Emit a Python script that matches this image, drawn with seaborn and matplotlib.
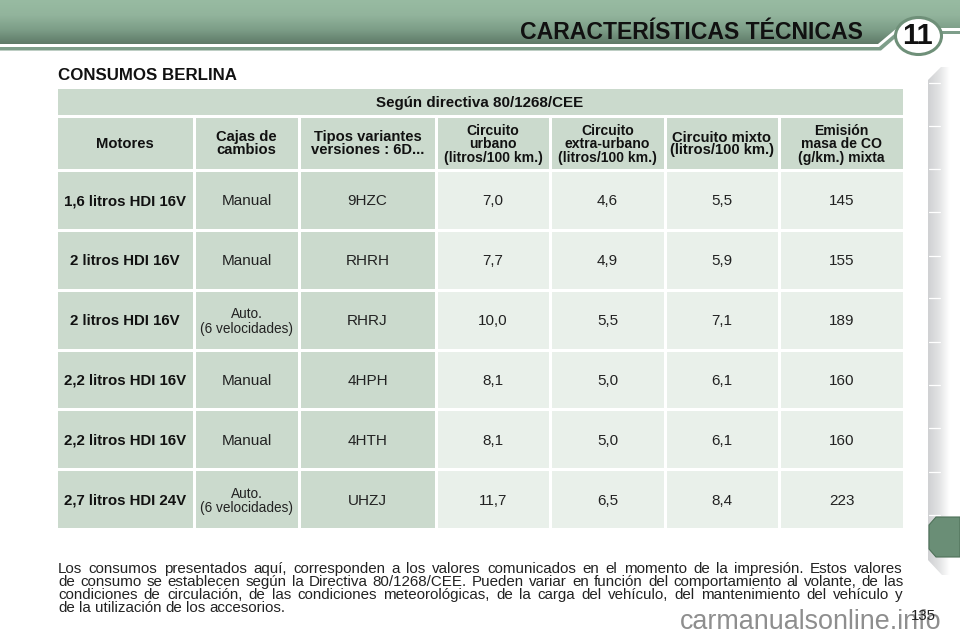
import numpy as np
import matplotlib
matplotlib.use('Agg')
import matplotlib.pyplot as plt
from matplotlib.colors import ListedColormap, LinearSegmentedColormap
from matplotlib.patches import Ellipse, Polygon
import seaborn as sns

# table content
motores = ['1,6 litros HDI 16V', '2 litros HDI 16V', '2 litros HDI 16V',
           '2,2 litros HDI 16V', '2,2 litros HDI 16V', '2,7 litros HDI 24V']
cajas = ['Manual', 'Manual', 'Auto.\n(6 velocidades)', 'Manual', 'Manual', 'Auto.\n(6 velocidades)']
tipos = ['9HZC', 'RHRH', 'RHRJ', '4HPH', '4HTH', 'UHZJ']
urbano = ['7,0', '7,7', '10,0', '8,1', '8,1', '11,7']
extra = ['4,6', '4,9', '5,5', '5,0', '5,0', '6,5']
mixto = ['5,5', '5,9', '7,1', '6,1', '6,1', '8,4']
co2 = ['145', '155', '189', '160', '160', '223']
cabeceras = ['Motores', 'Cajas de\ncambios', 'Tipos variantes\nversiones : 6D...',
             'Circuito\nurbano\n(litros/100 km.)', 'Circuito\nextra-urbano\n(litros/100 km.)',
             'Circuito mixto\n(litros/100 km.)', 'Emisión\nmasa de CO\n(g/km.) mixta']
parrafo = [
    'Los consumos presentados aquí, corresponden a los valores comunicados en el momento de la impresión. Estos valores',
    'de consumo se establecen según la Directiva 80/1268/CEE. Pueden variar en función del comportamiento al volante, de las',
    'condiciones de circulación, de las condiciones meteorológicas, de la carga del vehículo, del mantenimiento del vehículo y',
    'de la utilización de los accesorios.',
]

# column edges in pixels
col_x = [(58, 193), (196, 298), (301, 435), (438, 549), (552, 664), (667, 778), (781, 903)]
body_y = (172, 528)
head_y = (118, 169)
band_y = (89, 115)
DARK = '#cbdacd'
LIGHT = '#e9f0ea'
W, H = 960, 640

sns.set_theme(style='white')
plt.rcParams['font.family'] = ['Liberation Sans', 'DejaVu Sans']

fig = plt.figure(figsize=(9.6, 6.4), dpi=100)
bg = fig.add_axes([0, 0, 1, 1])
bg.set_xlim(0, W)
bg.set_ylim(H, 0)
bg.axis('off')


def cell_block(x0, x1, y0, y1, labels, fill, **kw):
    # one column of cells, 3px white gaps between rows
    ax = fig.add_axes([(x0 - 2) / W, 1 - (y1 + 1) / H, (x1 - x0 + 3) / W, (y1 - y0 + 3) / H])
    arr = np.array(labels, dtype=object).reshape(-1, 1)
    sns.heatmap(np.zeros(arr.shape), ax=ax, cmap=ListedColormap([fill]), cbar=False,
                annot=arr, fmt='', linewidths=2.16, linecolor='white',
                xticklabels=False, yticklabels=False, annot_kws=dict(va='center_baseline', **kw))
    ax.patch.set_alpha(0)
    return ax


# banner gradient with the step up on the right
grad = np.linspace(0, 1, 64).reshape(-1, 1)
cm = LinearSegmentedColormap.from_list('banner', ['#98bba2', '#92b49c', '#7c9d87', '#5d7866'])
im = bg.imshow(grad, extent=(0, W, 45, 0), cmap=cm, aspect='auto', zorder=1)
shape = Polygon([(0, 0), (960, 0), (960, 28), (897, 28), (878, 44), (0, 44)], transform=bg.transData)
im.set_clip_path(shape)
bg.set_xlim(0, W)
bg.set_ylim(H, 0)
bg.add_patch(Polygon([(0, 47), (879, 47), (898, 31), (960, 31), (960, 34), (900, 34), (881, 50.5), (0, 50.5)],
                     fc='#7e9e8a', ec='none', zorder=2))
bg.add_patch(Ellipse((918.5, 36), 46, 37, fc='white', ec='#6f9079', lw=2.2, zorder=3))
bg.text(917, 36.5, '11', fontsize=21, fontweight='bold', ha='center', va='center', color='#111111', zorder=4)
bg.text(691.5, 30, 'CARACTERÍSTICAS TÉCNICAS', fontsize=16.6, fontweight='bold', ha='center', va='center_baseline',
        color='#111111', zorder=4)

# side tabs
side = np.linspace(0, 1, 32).reshape(1, -1)
cs = LinearSegmentedColormap.from_list('side', ['#d0d1d3', '#e2e3e4', '#ffffff'])
im2 = bg.imshow(side, extent=(928, 950, 575, 67), cmap=cs, aspect='auto', zorder=1)
im2.set_clip_path(Polygon([(928, 80), (941, 67), (960, 67), (960, 575), (942, 575), (928, 560)],
                          transform=bg.transData))
bg.set_xlim(0, W)
bg.set_ylim(H, 0)
for yy in [83, 126, 169, 212, 256, 298, 342, 385, 428, 472, 515]:
    bg.plot([929, 940], [yy, yy], color='white', lw=0.9, zorder=2)
bg.add_patch(Polygon([(936, 517), (960, 517), (960, 557), (936, 557), (929, 549), (929, 525)],
                     fc='#6a8e76', ec='#4e7159', lw=0.8, zorder=3))

bg.text(58, 74, 'CONSUMOS BERLINA', fontsize=12.2, fontweight='bold', ha='left', va='center_baseline',
        color='#111111')

# table
cell_block(58, 903, band_y[0], band_y[1], ['Según directiva 80/1268/CEE'], DARK,
           fontsize=10.9, fontweight='bold', color='#111111')
for (x0, x1), cab in zip(col_x, cabeceras):
    tres = cab.count('\n') == 2
    cell_block(x0, x1, head_y[0], head_y[1], [cab], DARK, fontsize=10.1 if tres else 10.6, fontweight='bold',
               color='#111111', linespacing=0.95 if tres else 0.9)
bg.text(889.5, 147.5, '2', fontsize=6.5, fontweight='bold', ha='center', va='center', color='#111111', zorder=9)

columnas = [motores, cajas, tipos, urbano, extra, mixto, co2]
for j, ((x0, x1), vals) in enumerate(zip(col_x, columnas)):
    kw = dict(fontsize=11, color='#222222')
    if j == 0:
        kw = dict(fontsize=10.8, fontweight='bold', color='#111111')
    ax = cell_block(x0, x1, body_y[0], body_y[1], vals, DARK if j < 3 else LIGHT, **kw)
    if j == 1:
        # the two "Auto." cells use smaller type
        for t in ax.texts:
            if 'Auto' in t.get_text():
                t.set_fontsize(9.8)
                t.set_linespacing(1.05)

# justified note, word by word
fig.canvas.draw()
rend = fig.canvas.get_renderer()
note_l, note_r = 58, 903
for i, linea in enumerate(parrafo):
    y = 573 + i * 13
    words = linea.split(' ')
    ts = [bg.text(0, y, w, fontsize=10.9, ha='left', va='baseline', color='#222222') for w in words]
    ws = [t.get_window_extent(rend).width for t in ts]
    gap = (note_r - note_l - sum(ws)) / (len(words) - 1) if i < 3 else 4
    x = note_l
    for t, wd in zip(ts, ws):
        t.set_x(x)
        x += wd + gap

bg.text(811, 622, 'carmanualsonline.info', fontsize=19.4, ha='center', va='center', color='#8e8e8e', zorder=4)
bg.text(923, 616, '135', fontsize=10.8, ha='center', va='center', color='#222222', zorder=5)

fig.savefig('out.png', dpi=100)
